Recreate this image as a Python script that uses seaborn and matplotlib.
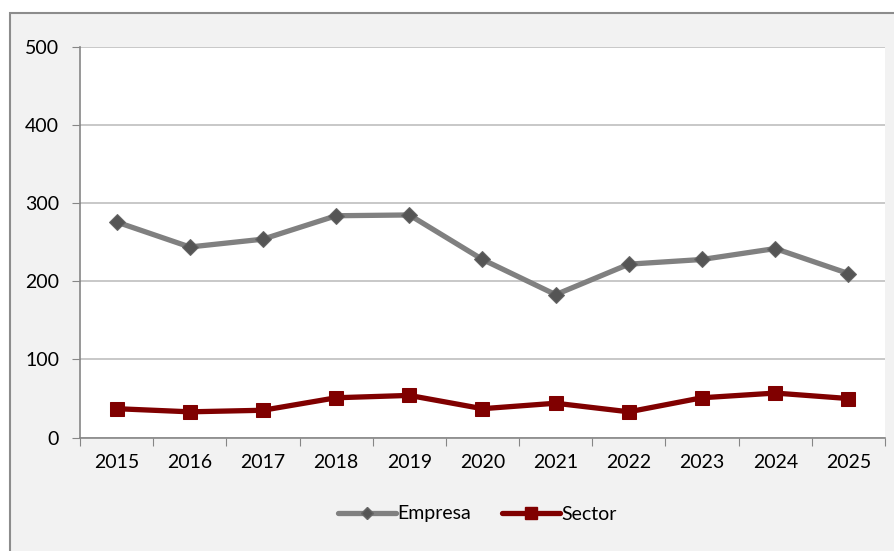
import numpy as np
import pandas as pd
import matplotlib
matplotlib.use("Agg")
import matplotlib.pyplot as plt
import seaborn as sns
from matplotlib.patches import Rectangle
from matplotlib.lines import Line2D

# datos
years = ["2015", "2016", "2017", "2018", "2019", "2020", "2021", "2022", "2023", "2024", "2025"]
empresa = [276, 244, 254, 284, 285, 228, 183, 222, 228, 242, 210]
sector = [37, 33, 35, 51, 54, 37, 44, 33, 51, 57, 50]

sns.set_style("white")
plt.rcParams['font.family'] = ['Lato', 'DejaVu Sans']
plt.rcParams['text.color'] = 'black'
plt.rcParams['xtick.color'] = 'black'
plt.rcParams['ytick.color'] = 'black'

df = pd.DataFrame({
    "x": list(range(len(years))) * 2,
    "valor": empresa + sector,
    "serie": ["Empresa"] * len(years) + ["Sector"] * len(years),
})

fig = plt.figure(figsize=(8.95, 5.51), dpi=100)
fig.patch.set_facecolor("white")
# marco gris del grafico
marco = Rectangle((10 / 895, -0.05), 1.0, (551 - 13) / 551 + 0.05,
                  transform=fig.transFigure, facecolor="#f2f2f2",
                  edgecolor="#8c8c8c", linewidth=1.5, zorder=-10)
fig.add_artist(marco)

ax = fig.add_axes([80 / 895, (551 - 437.6) / 551, 805 / 895, 390.6 / 551])
ax.set_facecolor("white")
ax.set_zorder(1)

sns.lineplot(data=df, x="x", y="valor", hue="serie", style="serie",
             palette={"Empresa": "#808080", "Sector": "#800000"},
             markers={"Empresa": "D", "Sector": "s"}, dashes=False,
             linewidth=3.8, ax=ax, legend=False)

# ajustar marcadores
lines = ax.get_lines()
lines[0].set_markersize(8)
lines[0].set_markerfacecolor("#555555")
lines[0].set_markeredgecolor("#666666")
lines[1].set_markersize(10)
lines[1].set_markerfacecolor("#800000")
lines[1].set_markeredgecolor("#800000")

ax.set_xlim(-0.5, len(years) - 0.5)
ax.set_ylim(0, 500)
ax.set_yticks(np.arange(0, 501, 100))
ax.yaxis.grid(True, color="#bfbfbf", linewidth=1.2)
ax.set_axisbelow(True)

# ticks del eje x entre categorias
ax.set_xticks(np.arange(-0.5, len(years), 1.0))
ax.set_xticklabels([])
ax.set_xticks(range(len(years)), minor=True)
ax.set_xticklabels(years, minor=True)
ax.tick_params(axis="x", which="major", length=6, color="#868686", direction="out", bottom=True)
ax.tick_params(axis="x", which="minor", length=0, labelsize=14, pad=12)
ax.tick_params(axis="y", length=6, color="#868686", labelsize=14, pad=9, left=True)

for s in ["top", "right"]:
    ax.spines[s].set_visible(False)
for s in ["left", "bottom"]:
    ax.spines[s].set_color("#868686")
    ax.spines[s].set_linewidth(1.2)

ax.set_xlabel("")
ax.set_ylabel("")

# leyenda
handles = [
    Line2D([], [], color="#808080", lw=3.8, marker="D", markersize=6,
           markerfacecolor="#555555", markeredgecolor="#666666"),
    Line2D([], [], color="#800000", lw=3.8, marker="s", markersize=9,
           markerfacecolor="#800000", markeredgecolor="#800000"),
]
fig.legend(handles, ["Empresa", "Sector"], loc="center", ncol=2,
           bbox_to_anchor=(477 / 895, 1 - 514 / 551), frameon=False,
           fontsize=14, handlelength=3.0, handletextpad=0.05, columnspacing=1.6)

fig.savefig("out.png", dpi=100)
